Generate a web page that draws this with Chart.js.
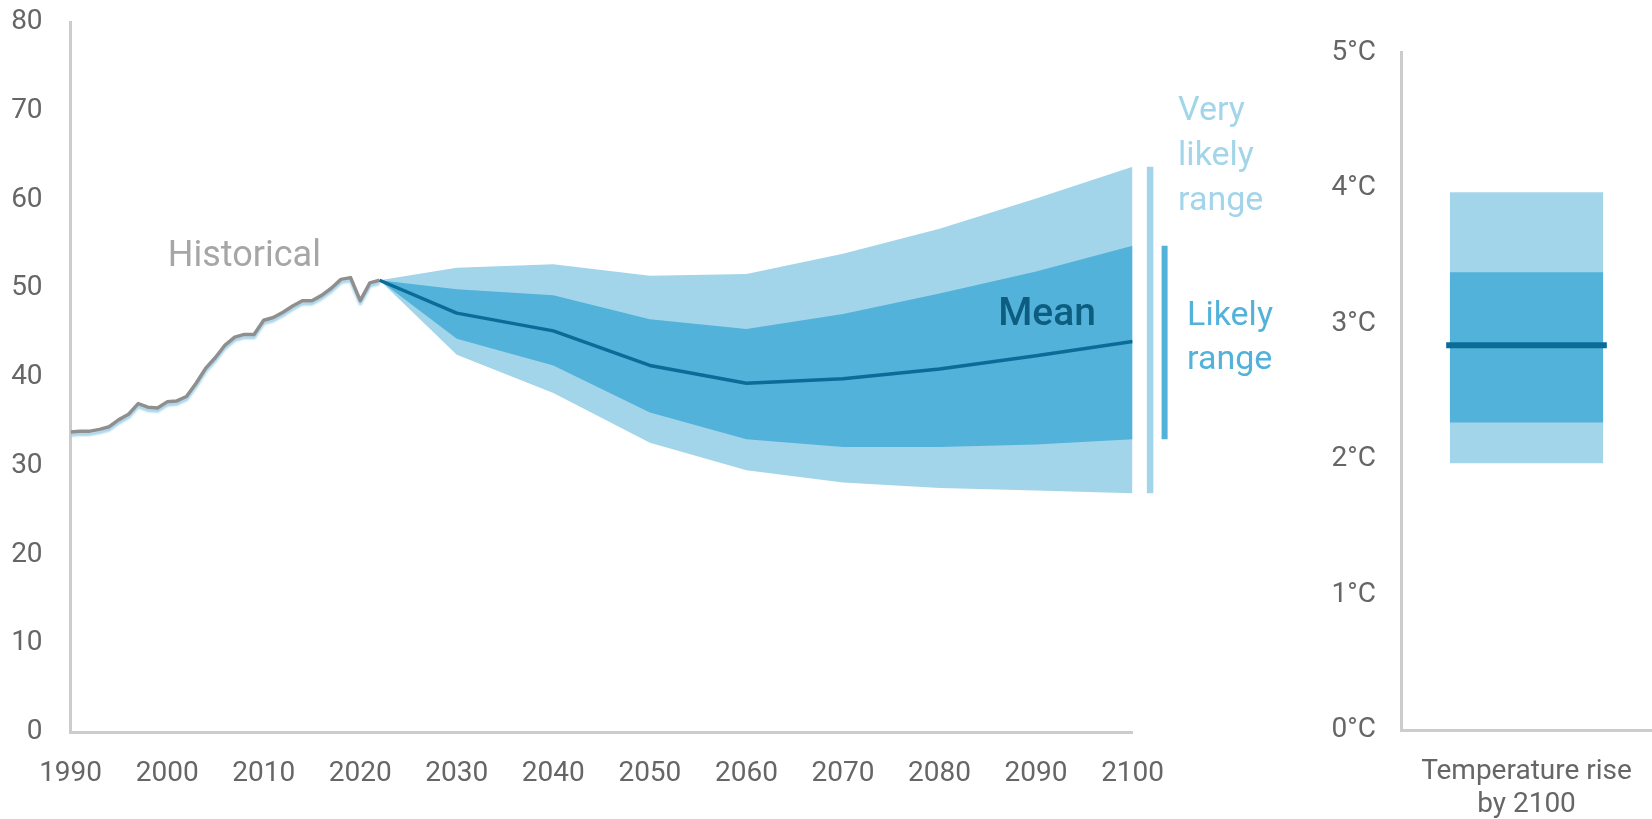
<!DOCTYPE html>
<html>
<head>
<meta charset="utf-8">
<script src="https://cdn.jsdelivr.net/npm/chart.js@4/dist/chart.umd.min.js"></script>
<style>
  html, body { margin: 0; padding: 0; background: #ffffff; }
  body { width: 1652px; height: 819px; position: relative; overflow: hidden; }
  #emissions { position: absolute; left: 0; top: 0; }
  #warming { position: absolute; left: 1290px; top: 0; }
</style>
</head>
<body>
<canvas id="emissions" width="1290" height="819"></canvas>
<canvas id="warming" width="362" height="819"></canvas>
<script>
// Historical emissions, 1990-2022
const histYears = [1990,1991,1992,1993,1994,1995,1996,1997,1998,1999,2000,2001,2002,2003,2004,2005,2006,2007,2008,2009,2010,2011,2012,2013,2014,2015,2016,2017,2018,2019,2020,2021,2022];
const histValues = [33.8,33.9,33.9,34.1,34.4,35.2,35.8,37.0,36.6,36.5,37.2,37.3,37.8,39.3,41.0,42.2,43.6,44.5,44.8,44.8,46.4,46.7,47.3,48.0,48.6,48.6,49.2,50.0,51.0,51.2,48.6,50.6,50.9];

// Projection, 2022-2100
const projYears = [2022,2030,2040,2050,2060,2070,2080,2090,2100];
const projMean = [50.9,47.2,45.2,41.3,39.3,39.8,40.9,42.4,44.0];
const likelyHigh = [50.9,49.9,49.2,46.5,45.4,47.1,49.4,51.9,54.8];
const likelyLow = [50.9,44.3,41.3,36.0,33.0,32.1,32.1,32.4,33.0];
const veryLikelyHigh = [50.9,52.3,52.7,51.4,51.6,53.9,56.7,60.1,63.7];
const veryLikelyLow = [50.9,42.5,38.2,32.6,29.5,28.1,27.5,27.2,26.9];

const xTicks = [1990,2000,2010,2020,2030,2040,2050,2060,2070,2080,2090,2100];
const yTicks = [0,10,20,30,40,50,60,70,80];

// Temperature rise by 2100
const tempCategory = [['Temperature rise', 'by 2100']];
const tempVeryLikely = [[1.97, 3.97]];
const tempLikely = [[2.27, 3.38]];
const tempMean = [2.84];
const tempTickLabels = ['0°C','1°C','2°C','3°C','4°C','5°C'];

const LIGHT = '#a3d5ea';
const MID = '#52b2d9';
const DARK = '#0b6c98';
const GREY_TEXT = '#666666';
const AXIS = '#cccccc';
const FONT = 'Roboto, "Open Sans", sans-serif';

const pts = (xs, ys) => xs.map((x, i) => ({ x: x, y: ys[i] }));

Chart.defaults.font.family = FONT;

// keep the outer tick labels from pushing the plot area inwards
const noEdgePadding = s => { s.paddingTop = 0; s.paddingBottom = 0; s.paddingLeft = 0; s.paddingRight = 0; };

// soft blue under-stroke beneath the historical line
const histShadow = {
  id: 'histShadow',
  beforeDatasetDraw(chart, args) {
    if (args.meta.label !== 'Historical') return;
    const ctx = chart.ctx;
    ctx.save();
    ctx.shadowColor = 'rgba(150, 205, 230, 0.85)';
    ctx.shadowOffsetY = 3;
    ctx.shadowBlur = 2;
  },
  afterDatasetDraw(chart, args) {
    if (args.meta.label !== 'Historical') return;
    chart.ctx.restore();
  }
};

// range bars at 2100 and the text annotations
const annotations = {
  id: 'annotations',
  afterDraw(chart) {
    const { ctx, chartArea, scales } = chart;
    const y = scales.y, x = scales.x;
    const last = projYears.length - 1;
    ctx.save();
    ctx.lineCap = 'butt';

    // very likely range bar
    ctx.strokeStyle = LIGHT;
    ctx.lineWidth = 6.5;
    ctx.beginPath();
    ctx.moveTo(chartArea.right + 17.5, y.getPixelForValue(veryLikelyHigh[last]));
    ctx.lineTo(chartArea.right + 17.5, y.getPixelForValue(veryLikelyLow[last]));
    ctx.stroke();

    // likely range bar
    ctx.strokeStyle = MID;
    ctx.lineWidth = 6;
    ctx.beginPath();
    ctx.moveTo(chartArea.right + 32, y.getPixelForValue(likelyHigh[last]));
    ctx.lineTo(chartArea.right + 32, y.getPixelForValue(likelyLow[last]));
    ctx.stroke();

    ctx.textBaseline = 'middle';

    ctx.fillStyle = '#a6a6a6';
    ctx.font = '36px ' + FONT;
    ctx.textAlign = 'center';
    ctx.fillText('Historical', x.getPixelForValue(2008), y.getPixelForValue(53.5));

    ctx.fillStyle = '#0d5d80';
    ctx.font = '500 39px ' + FONT;
    ctx.textAlign = 'right';
    ctx.fillText('Mean', x.getPixelForValue(2096.2), y.getPixelForValue(47.0));

    ctx.textAlign = 'left';
    ctx.font = '34px ' + FONT;
    ctx.fillStyle = LIGHT;
    ['Very', 'likely', 'range'].forEach((t, i) => {
      ctx.fillText(t, chartArea.right + 45.5, 111 + i * 45);
    });
    ctx.fillStyle = MID;
    ['Likely', 'range'].forEach((t, i) => {
      ctx.fillText(t, chartArea.right + 54.5, 316 + i * 44);
    });
    ctx.restore();
  }
};

new Chart(document.getElementById('emissions'), {
  type: 'line',
  data: {
    datasets: [
      { label: 'Mean', data: pts(projYears, projMean), borderColor: DARK, borderWidth: 3.5, fill: false },
      { label: 'Likely high', data: pts(projYears, likelyHigh), borderWidth: 0, borderColor: 'rgba(0,0,0,0)', backgroundColor: MID, fill: '+1' },
      { label: 'Likely low', data: pts(projYears, likelyLow), borderWidth: 0, borderColor: 'rgba(0,0,0,0)', fill: false },
      { label: 'Very likely high', data: pts(projYears, veryLikelyHigh), borderWidth: 0, borderColor: 'rgba(0,0,0,0)', backgroundColor: LIGHT, fill: '+1' },
      { label: 'Very likely low', data: pts(projYears, veryLikelyLow), borderWidth: 0, borderColor: 'rgba(0,0,0,0)', fill: false },
      { label: 'Historical', data: pts(histYears, histValues), borderColor: '#8f8f8f', borderWidth: 3.5, fill: false }
    ]
  },
  options: {
    responsive: false,
    animation: false,
    devicePixelRatio: 1,
    elements: { point: { radius: 0, hoverRadius: 0 }, line: { tension: 0, borderJoinStyle: 'round' } },
    layout: { padding: { top: 22, left: 0, right: 157.4, bottom: 0 } },
    plugins: { legend: { display: false }, tooltip: { enabled: false } },
    scales: {
      x: {
        type: 'linear', min: 1990, max: 2100,
        afterBuildTicks: s => { s.ticks = xTicks.map(v => ({ value: v })); },
        afterFit: s => { s.height = 87; },
        grid: { display: false, drawTicks: false },
        border: { display: true, color: AXIS, width: 3 },
        ticks: { color: GREY_TEXT, font: { size: 28 }, padding: 25, maxRotation: 0, autoSkip: false, callback: v => String(v) }
      },
      y: {
        min: 0, max: 80,
        afterBuildTicks: s => { s.ticks = yTicks.map(v => ({ value: v })); },
        afterFit: s => { s.width = 70.6; noEdgePadding(s); },
        grid: { display: false, drawTicks: false },
        border: { display: true, color: AXIS, width: 3 },
        ticks: { color: GREY_TEXT, font: { size: 28 }, padding: 28, callback: v => String(v) }
      }
    }
  },
  plugins: [histShadow, annotations]
});

new Chart(document.getElementById('warming'), {
  type: 'bar',
  data: {
    labels: tempCategory,
    datasets: [
      { label: 'Mean', data: tempMean.map(v => [v - 0.022, v + 0.022]), backgroundColor: DARK, barPercentage: 0.64, categoryPercentage: 1, grouped: false },
      { label: 'Likely range', data: tempLikely, backgroundColor: MID, barPercentage: 0.61, categoryPercentage: 1, grouped: false },
      { label: 'Very likely range', data: tempVeryLikely, backgroundColor: LIGHT, barPercentage: 0.61, categoryPercentage: 1, grouped: false }
    ]
  },
  options: {
    responsive: false,
    animation: false,
    devicePixelRatio: 1,
    layout: { padding: { top: 52.7, left: 0, right: 0, bottom: 0 } },
    plugins: { legend: { display: false }, tooltip: { enabled: false } },
    scales: {
      x: {
        afterFit: s => { s.height = 89; noEdgePadding(s); },
        grid: { display: false, drawTicks: false },
        border: { display: true, color: AXIS, width: 3 },
        ticks: { color: GREY_TEXT, font: { size: 28, lineHeight: 1.2 }, padding: 25, maxRotation: 0 }
      },
      y: {
        min: 0, max: 5,
        afterBuildTicks: s => { s.ticks = tempTickLabels.map((t, i) => ({ value: i })); },
        afterFit: s => { s.width = 111; noEdgePadding(s); },
        grid: { display: false, drawTicks: false },
        border: { display: true, color: AXIS, width: 3 },
        ticks: { color: GREY_TEXT, font: { size: 28 }, padding: 25, callback: (v, i) => tempTickLabels[i] }
      }
    }
  }
});
</script>
</body>
</html>
